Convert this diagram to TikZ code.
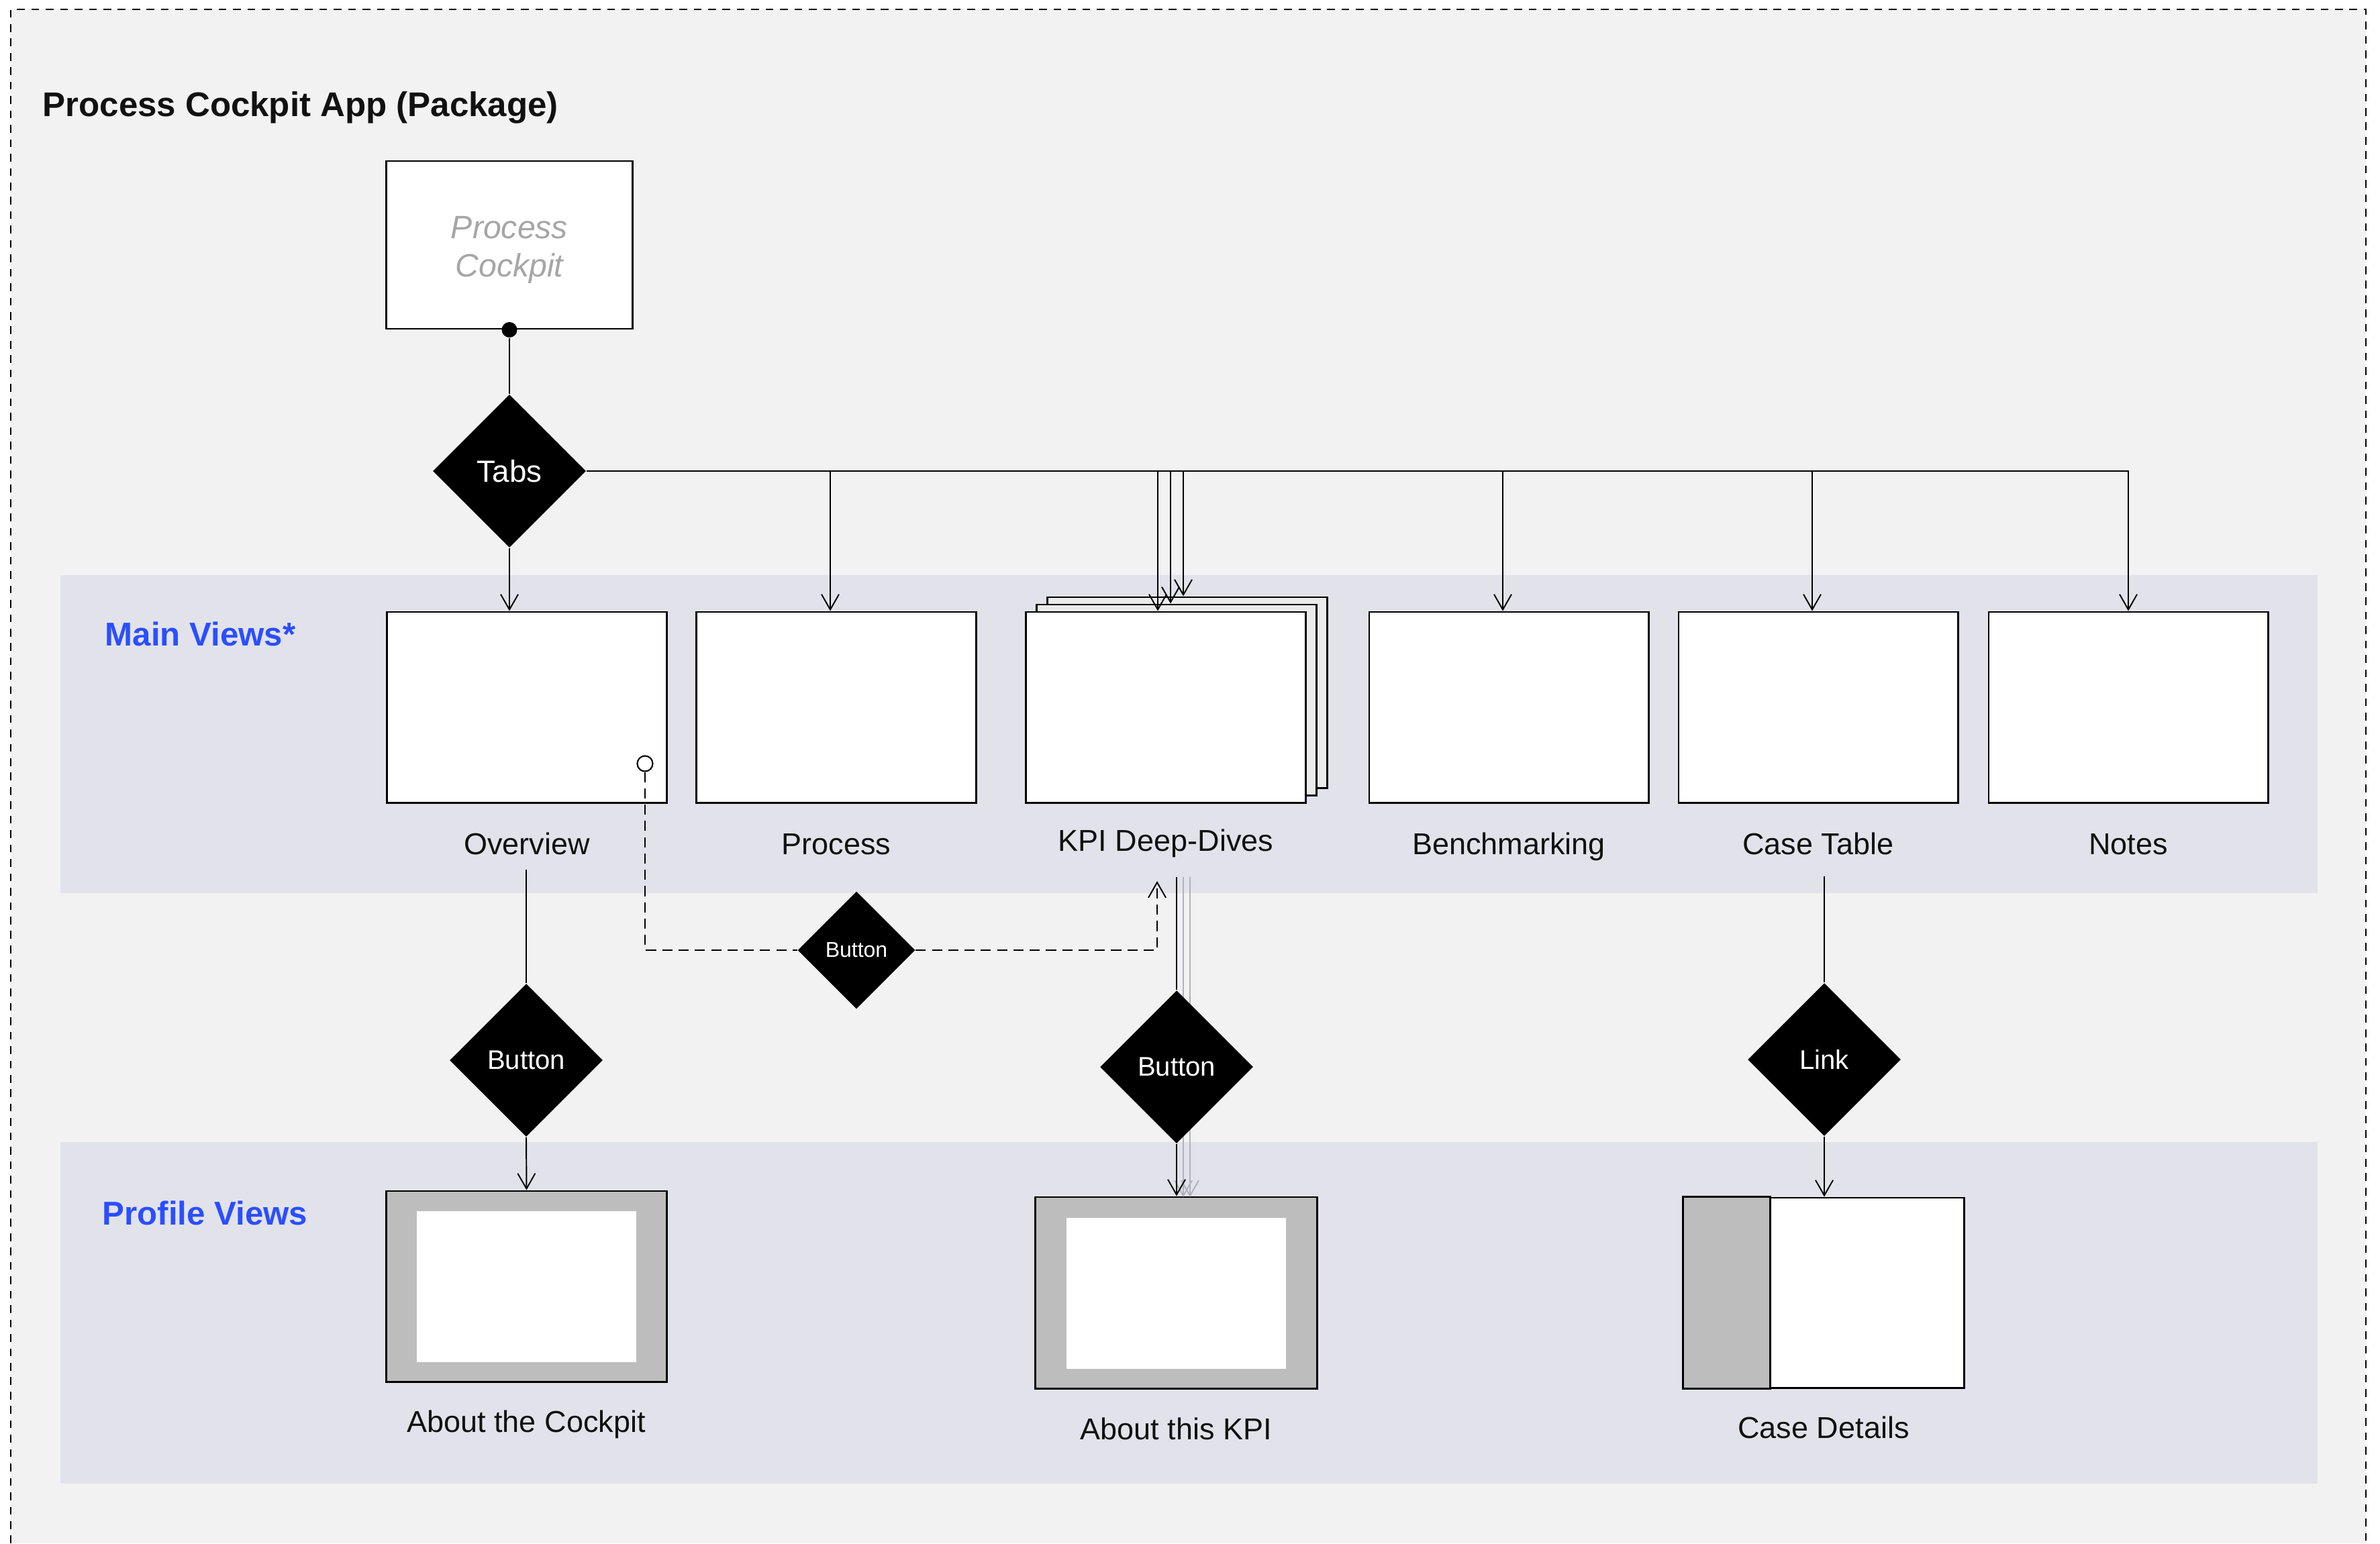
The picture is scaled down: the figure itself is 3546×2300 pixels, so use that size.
\documentclass[tikz,border=0pt]{standalone}
\usepackage{fontspec}
\setmainfont{Liberation Sans}
\usetikzlibrary{shapes.geometric,arrows.meta,calc}
\definecolor{bgc}{HTML}{F2F2F2}
\definecolor{bandc}{HTML}{E2E3EA}
\definecolor{panelc}{HTML}{BDBDBD}
\definecolor{layerc}{HTML}{EBEBEB}
\definecolor{bluec}{HTML}{2B4EFF}
\definecolor{pcgray}{HTML}{A6A6A6}
\definecolor{ghost}{HTML}{B2B3BA}
\definecolor{inkc}{HTML}{111111}
\tikzset{
  view/.style={draw, line width=0.8pt, fill=white, minimum width=4.16cm, minimum height=2.84cm, inner sep=0},
  layer/.style={view, fill=layerc},
  profile/.style={draw, line width=0.8pt, fill=panelc, minimum width=4.18cm, minimum height=2.84cm, inner sep=0},
  pane/.style={fill=white, minimum width=3.27cm, minimum height=2.25cm, inner sep=0},
  gate/.style={diamond, aspect=1, fill=black, text=white, inner sep=0, minimum width=2.28cm, minimum height=2.28cm, font=\fontsize{11.4}{13}\selectfont},
  conn/.style={line width=0.55pt, draw=black},
  arr/.style={conn, -{Straight Barb[length=6.5pt,width=7.4pt]}},
  ghostarr/.style={line width=0.55pt, draw=ghost, -{Straight Barb[length=6.5pt,width=7.4pt]}},
  dashpat/.style={dash pattern=on 4.3pt off 2.6pt},
  lbl/.style={anchor=base, inner sep=0, text=inkc, font=\fontsize{12.8}{15}\selectfont},
  lane/.style={anchor=base west, inner sep=0, text=bluec, font=\fontsize{14}{17}\selectfont\bfseries}
}
\begin{document}
\begin{tikzpicture}[x=0.01cm,y=-0.01cm]
\useasboundingbox (0,0) rectangle (3546,2300);
\fill[white] (0,0) rectangle (3546,2300);
\fill[bgc] (16,14) rectangle (3525,2300);
\draw[line width=0.6pt, dash pattern=on 3.3pt off 2.8pt] (16,2300) -- (16,14) -- (3525,14) -- (3525,2300);

% bands
\fill[bandc] (90,857) rectangle (3453,1331);
\fill[bandc] (90,1702) rectangle (3453,2211);

% title and lane labels
\node[anchor=base west, inner sep=0, text=inkc, font=\fontsize{14.5}{17}\selectfont\bfseries] (title) at (63,173) {Process Cockpit App (Package)};
\node[lane] (mainlbl) at (156,962) {Main Views*};
\node[lane] (proflbl) at (152,1825) {Profile Views};

% root
\node[view, minimum width=3.66cm, minimum height=2.5cm] (pc) at (759,365) {};
\node[align=center, inner sep=0, text=pcgray, font=\fontsize{13.7}{16.2}\selectfont\itshape] (pctext) at (759,372) {Process\\Cockpit};
\node[circle, fill=black, inner sep=0, minimum size=0.23cm] (dot) at (pc.south) {};
\node[gate, font=\fontsize{13}{15}\selectfont] (tabs) at (759,702) {Tabs};

% main views
\node[view] (overview) at (785,1054) {};
\node[view] (process) at (1246,1054) {};
\node[layer] (kpiback) at (1769,1032) {};
\node[layer] (kpimid) at (1753,1043) {};
\node[view] (kpi) at (1737,1054) {};
\node[view] (bench) at (2248,1054) {};
\node[view] (casetable) at (2709,1054) {};
\node[view] (notes) at (3171,1054) {};

\node[lbl] (ovlbl) at (785,1273) {Overview};
\node[lbl] (prlbl) at (1246,1273) {Process};
\node[lbl] (kpilbl) at (1737,1268) {KPI Deep-Dives};
\node[lbl] (bmlbl) at (2248,1273) {Benchmarking};
\node[lbl] (ctlbl) at (2709,1273) {Case Table};
\node[lbl] (ntlbl) at (3171,1273) {Notes};

% profile views
\node[profile] (aboutcockpit) at (784.5,1917) {};
\node[pane] (acpane) at (784.5,1917.5) {};
\node[profile, minimum width=4.19cm, minimum height=2.85cm] (aboutkpi) at (1752.5,1926.5) {};
\node[pane] (akpane) at (1752.5,1927.5) {};
\node[view, minimum width=4.17cm, minimum height=2.83cm] (casedetails) at (2717.5,1926.5) {};
\draw[line width=0.8pt, fill=panelc] (casedetails.north west) rectangle ($(casedetails.south west)+(130,0)$);

\node[lbl] (aclbl) at (784,2134) {About the Cockpit};
\node[lbl] (aklbl) at (1752,2145) {About this KPI};
\node[lbl] (cdlbl) at (2717,2143) {Case Details};

% ghost connectors behind the KPI button
\coordinate (g1a) at (1763,1307);
\coordinate (g1b) at (1763,1784);
\coordinate (g2a) at (1773,1307);
\coordinate (g2b) at (1773,1784);
\draw[ghostarr] (g1a) -- (g1b);
\draw[ghostarr] (g2a) -- (g2b);

% gates
\node[gate] (ovbtn) at (784,1580) {Button};
\node[gate] (kpibtn) at (1753,1590) {Button};
\node[gate] (linkdia) at (2718,1579) {Link};
\node[gate, minimum width=1.75cm, minimum height=1.75cm, font=\fontsize{9.1}{11}\selectfont] (btn1) at (1276,1416) {Button};
\node[circle, draw, fill=white, line width=0.6pt, inner sep=0, minimum size=0.23cm] (ovc) at (961,1138) {};

% connectors
\draw[conn] (dot) -- (tabs.north);
\draw[arr] (tabs.south) -- (tabs.south |- overview.north);
\draw[arr] (tabs.east) -| (notes.north);
\draw[arr] ([xshift=-0.09cm]process.north |- tabs.east) -- ([xshift=-0.09cm]process.north);
\draw[arr] ([xshift=-0.12cm]kpi.north |- tabs.east) -- ([xshift=-0.12cm]kpi.north);
\draw[arr] ([xshift=-0.09cm]kpimid.north |- tabs.east) -- ([xshift=-0.09cm]kpimid.north);
\draw[arr] ([xshift=-0.06cm]kpiback.north |- tabs.east) -- ([xshift=-0.06cm]kpiback.north);
\draw[arr] ([xshift=-0.09cm]bench.north |- tabs.east) -- ([xshift=-0.09cm]bench.north);
\draw[arr] ([xshift=-0.09cm]casetable.north |- tabs.east) -- ([xshift=-0.09cm]casetable.north);

\coordinate (ovout) at (784,1296);
\draw[conn] (ovout) -- (ovbtn.north);
\draw[arr] (ovbtn.south) -- (aboutcockpit.north);

\coordinate (kpiout) at (1753,1307);
\draw[conn] (kpiout) -- (kpibtn.north);
\draw[arr] (kpibtn.south) -- (kpibtn.south |- aboutkpi.north);

\coordinate (ctout) at (2718,1306);
\draw[conn] (ctout) -- (linkdia.north);
\draw[arr] (linkdia.south) -- (linkdia.south |- casedetails.north);

\coordinate (kpiin) at (1724,1313);
\draw[conn, dashpat] (ovc.south) |- (btn1.west);
\draw[arr, dashpat] (btn1.east) -| (kpiin);
\end{tikzpicture}
\end{document}
